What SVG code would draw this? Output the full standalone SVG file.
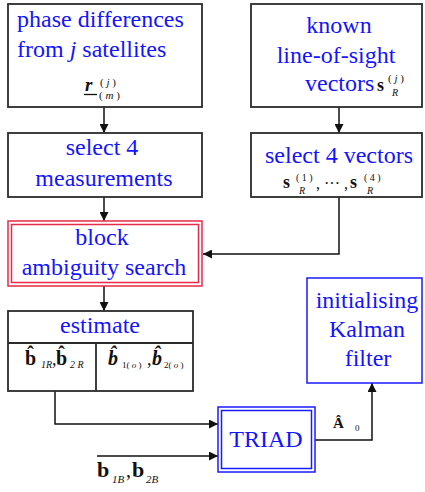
<svg xmlns="http://www.w3.org/2000/svg" width="425" height="492" viewBox="0 0 425 492" font-family="'Liberation Serif', 'Times New Roman', 'DejaVu Serif', serif">
<defs>
<marker id="ah" viewBox="0 0 10 10" refX="10" refY="5" markerWidth="10" markerHeight="9" markerUnits="userSpaceOnUse" orient="auto">
<path d="M0,0 L10,5 L0,10 z" fill="#111"/>
</marker>
<style>
.box{fill:#fff;stroke:#2b2b2b;stroke-width:1.8}
.red{fill:none;stroke:#e8294a;stroke-width:1.5}
.blue{fill:none;stroke:#1a1aff;stroke-width:1.5}
text{font-family:'Liberation Serif','Times New Roman','DejaVu Serif',serif}
.t{font-size:24px;fill:#1414ff}
.c{text-anchor:middle}
.m{fill:#111}
.conn{fill:none;stroke:#111;stroke-width:1.5}
</style>
</defs>
<rect width="425" height="492" fill="#fff"/>

<g id="connectors">
<line class="conn" x1="104" y1="107" x2="104" y2="133" marker-end="url(#ah)"/>
<line class="conn" x1="339" y1="107" x2="339" y2="133" marker-end="url(#ah)"/>
<line class="conn" x1="104" y1="197" x2="104" y2="221" marker-end="url(#ah)"/>
<polyline class="conn" points="339,197 339,254 203,254" marker-end="url(#ah)"/>
<line class="conn" x1="104" y1="286" x2="104" y2="311" marker-end="url(#ah)"/>
<polyline class="conn" points="55,391 55,424 218,424" marker-end="url(#ah)"/>
<line class="conn" x1="97" y1="456" x2="218" y2="456" marker-end="url(#ah)"/>
<polyline class="conn" points="315,440 372,440 372,383" marker-end="url(#ah)"/>
<text class="m" x="333" y="428" font-size="15" font-weight="bold">Â</text>
<text class="m" x="355" y="431" font-size="9">0</text>
<g id="b_input_label">
<text class="m" x="97" y="477" font-size="22" font-weight="bold">b</text>
<text class="m" x="112" y="483" font-size="11" font-style="italic">1B</text>
<text class="m" x="126" y="477" font-size="20">,</text>
<text class="m" x="132" y="477" font-size="22" font-weight="bold">b</text>
<text class="m" x="146" y="483" font-size="11" font-style="italic">2B</text>
</g>
</g>

<g id="phase">
<rect class="box" x="8" y="4" width="194" height="103"/>
<text class="t" x="17" y="27">phase differences</text>
<text class="t" x="17" y="57">from <tspan font-style="italic">j</tspan> satellites</text>
<text class="m" x="85" y="91" font-size="19" font-style="italic" font-weight="bold">r</text>
<line x1="84" y1="94.5" x2="97" y2="94.5" stroke="#111" stroke-width="1.3"/>
<text class="m" x="100" y="86" font-size="11" xml:space="preserve">( <tspan font-style="italic">j</tspan> )</text>
<text class="m" x="99" y="99" font-size="11" xml:space="preserve">( <tspan font-style="italic">m</tspan> )</text>
</g>

<g id="known">
<rect class="box" x="251" y="4" width="171" height="103"/>
<text class="t c" x="339" y="33">known</text>
<text class="t c" x="336" y="63">line-of-sight</text>
<text class="t" x="305" y="91">vectors</text>
<text class="m" x="377" y="91" font-size="18" font-weight="bold">s</text>
<text class="m" x="388" y="82" font-size="11" xml:space="preserve">( <tspan font-style="italic">j</tspan> )</text>
<text class="m" x="392" y="96" font-size="10" font-style="italic">R</text>
</g>

<g id="select_meas">
<rect class="box" x="8" y="133" width="194" height="64"/>
<text class="t c" x="102" y="155">select 4</text>
<text class="t c" x="104" y="186">measurements</text>
</g>

<g id="select_vec">
<rect class="box" x="251" y="133" width="171" height="64"/>
<text class="t c" x="339" y="163">select 4 vectors</text>
<text class="m" x="283" y="188" font-size="18" font-weight="bold">s</text>
<text class="m" x="296" y="181" font-size="10" xml:space="preserve">( 1 )</text>
<text class="m" x="299" y="194" font-size="10" font-style="italic">R</text>
<text class="m" x="316" y="189" font-size="16">, ··· ,</text>
<text class="m" x="350" y="188" font-size="18" font-weight="bold">s</text>
<text class="m" x="364" y="181" font-size="10" xml:space="preserve">( 4 )</text>
<text class="m" x="367" y="194" font-size="10" font-style="italic">R</text>
</g>

<g id="block_search">
<rect class="red" x="8" y="221" width="194" height="65"/>
<rect class="red" x="11.5" y="224.5" width="187" height="58"/>
<text class="t c" x="102" y="245">block</text>
<text class="t c" x="104" y="275">ambiguity search</text>
</g>

<g id="estimate">
<rect class="box" x="8" y="311" width="185" height="80"/>
<line x1="8" y1="343" x2="193" y2="343" stroke="#2b2b2b" stroke-width="2.2"/>
<line x1="96" y1="343" x2="96" y2="391" stroke="#2b2b2b" stroke-width="1.8"/>
<text class="t c" x="100" y="333">estimate</text>
<text class="m" x="25" y="365" font-size="20" font-weight="bold">b̂</text>
<text class="m" x="41" y="368" font-size="10" font-style="italic">1R</text>
<text class="m" x="52" y="365" font-size="18">,</text>
<text class="m" x="56" y="365" font-size="20" font-weight="bold">b̂</text>
<text class="m" x="70" y="368" font-size="10" font-style="italic">2 R</text>
<text class="m" x="108" y="365" font-size="20" font-weight="bold" font-style="italic">b̂</text>
<text class="m" x="122" y="368" font-size="9" xml:space="preserve">1( <tspan font-style="italic">o</tspan> )</text>
<text class="m" x="147" y="365" font-size="18">,</text>
<text class="m" x="152" y="365" font-size="20" font-weight="bold" font-style="italic">b̂</text>
<text class="m" x="164" y="368" font-size="9" xml:space="preserve">2( <tspan font-style="italic">o</tspan> )</text>
</g>

<g id="kalman">
<rect class="blue" x="307" y="278" width="115" height="105"/>
<text class="t c" x="367" y="308">initialising</text>
<text class="t c" x="367" y="337">Kalman</text>
<text class="t c" x="368" y="366">filter</text>
</g>

<g id="triad">
<rect class="blue" x="218" y="407" width="97" height="65"/>
<rect class="blue" x="221.5" y="410.5" width="90" height="58"/>
<text class="t c" x="266" y="447">TRIAD</text>
</g>
</svg>
